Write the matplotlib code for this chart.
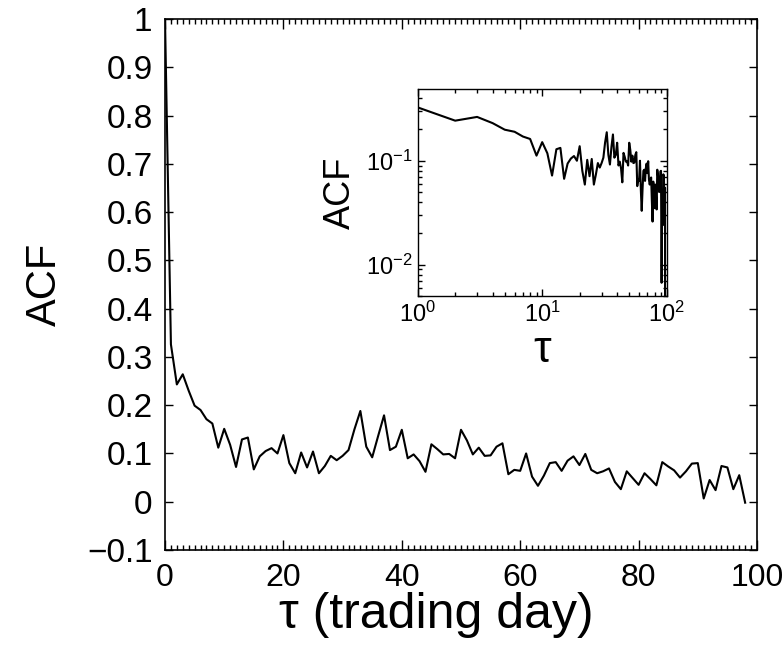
import numpy as np
import matplotlib
matplotlib.use("Agg")
import matplotlib.pyplot as plt
from matplotlib.ticker import MultipleLocator, FixedLocator, LogLocator, NullFormatter

plt.rcParams['font.family'] = ['Liberation Sans', 'DejaVu Sans']
plt.rcParams['mathtext.fontset'] = 'custom'
plt.rcParams['mathtext.rm'] = 'Liberation Sans'
plt.rcParams['mathtext.it'] = 'Liberation Sans:italic'
plt.rcParams['mathtext.default'] = 'regular'

# ====== DATA =======
# autocorrelation of the return series, lag 0..98 trading days
lag = np.arange(0, 99)
acf = [
    1.000, 0.326, 0.243, 0.264, 0.230, 0.199, 0.190, 0.171, 0.162, 0.112,
    0.151, 0.118, 0.072, 0.129, 0.133, 0.067, 0.094, 0.105, 0.111, 0.100,
    0.138, 0.080, 0.059, 0.102, 0.071, 0.104, 0.059, 0.074, 0.095, 0.086,
    0.095, 0.107, 0.150, 0.188, 0.114, 0.092, 0.136, 0.179, 0.107, 0.114,
    0.149, 0.090, 0.098, 0.084, 0.062, 0.119, 0.109, 0.098, 0.099, 0.090,
    0.149, 0.127, 0.098, 0.112, 0.095, 0.096, 0.114, 0.121, 0.057, 0.066,
    0.064, 0.100, 0.052, 0.033, 0.054, 0.080, 0.082, 0.064, 0.085, 0.094,
    0.076, 0.099, 0.066, 0.059, 0.063, 0.069, 0.041, 0.026, 0.063, 0.049,
    0.035, 0.059, 0.047, 0.034, 0.082, 0.073, 0.065, 0.050, 0.063, 0.079,
    0.080, 0.0067, 0.045, 0.024, 0.074, 0.071, 0.026, 0.055, -0.002,
]

y_ticks = [-0.1, 0, 0.1, 0.2, 0.3, 0.4, 0.5, 0.6, 0.7, 0.8, 0.9, 1]
y_tick_labels = ['\u22120.1', '0', '0.1', '0.2', '0.3', '0.4', '0.5', '0.6', '0.7', '0.8', '0.9', '1']
x_ticks = [0, 20, 40, 60, 80, 100]

# ====== PLOT =======
fig = plt.figure(figsize=(7.83, 6.5), dpi=100)

ax = fig.add_axes([165 / 783, 1 - 550 / 650, 592 / 783, 531 / 650])
ax.plot(lag, acf, color='black', linewidth=1.5)
ax.set_xlim(0, 100)
ax.set_ylim(-0.1, 1.0)

ax.xaxis.set_major_locator(FixedLocator(x_ticks))
ax.xaxis.set_minor_locator(MultipleLocator(1))
ax.set_yticks(y_ticks)
ax.set_yticklabels(y_tick_labels)
ax.tick_params(which='both', direction='in', top=True, right=True, width=1)
ax.tick_params(which='major', length=7)
ax.tick_params(which='minor', length=3.5)
ax.tick_params(axis='y', which='major', length=6, labelsize=24, pad=9)
ax.tick_params(axis='x', which='major', labelsize=23, pad=9)
for s in ax.spines.values():
    s.set_linewidth(1.2)

ax.set_ylabel('ACF', fontsize=30, labelpad=16)
ax.set_xlabel('\u03c4 (trading day)', fontsize=36, labelpad=0)
ax.xaxis.label.set_x(0.458)

# ====== INSET (log-log) =======
ins = fig.add_axes([417.7 / 783, 1 - 296 / 650, 249 / 783, 207 / 650])
ins.plot(lag[1:], acf[1:], color='black', linewidth=1.5)
ins.set_xscale('log')
ins.set_yscale('log')
ins.set_xlim(1, 100)
ins.set_ylim(0.005, 0.49)
ins.xaxis.set_major_locator(LogLocator(base=10, numticks=5))
ins.xaxis.set_minor_locator(LogLocator(base=10, subs=np.arange(2, 10), numticks=20))
ins.xaxis.set_minor_formatter(NullFormatter())
ins.yaxis.set_major_locator(FixedLocator([0.01, 0.1]))
ins.yaxis.set_minor_locator(LogLocator(base=10, subs=np.arange(2, 10), numticks=20))
ins.yaxis.set_minor_formatter(NullFormatter())
ins.tick_params(which='both', direction='in', top=True, right=True, width=1)
ins.tick_params(which='major', length=5, labelsize=17)
ins.tick_params(axis='x', which='major', pad=4)
ins.tick_params(which='minor', length=3)
for s in ins.spines.values():
    s.set_linewidth(1)

ins.set_ylabel('ACF', fontsize=26, labelpad=6)
ins.set_xlabel('\u03c4', fontsize=32, labelpad=2)

fig.savefig('out.png', dpi=100)
